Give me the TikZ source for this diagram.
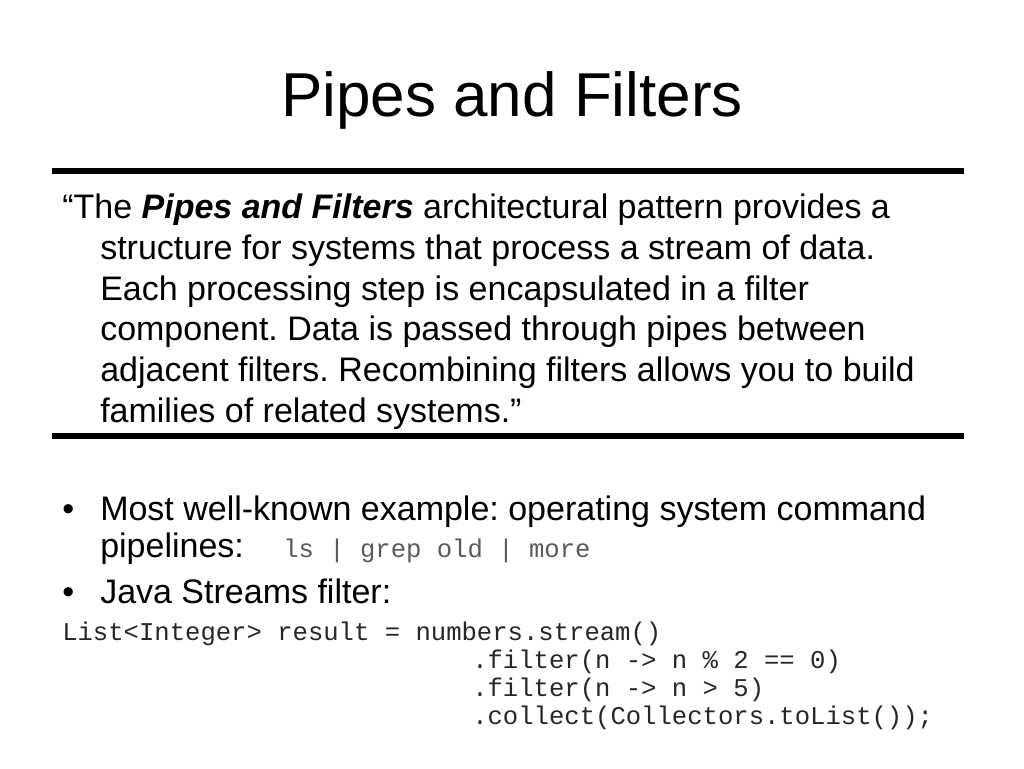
\documentclass[tikz,border=0pt]{standalone}
\usepackage{fontspec}
\setmainfont{Liberation Sans}
\setmonofont{Liberation Mono}
\frenchspacing
\begin{document}
\begin{tikzpicture}[x=0.75pt,y=-0.75pt,
  body/.style={anchor=base west,inner sep=0pt,font=\fontsize{25.5pt}{28pt}\selectfont},
  code/.style={anchor=base west,inner sep=0pt,font=\fontsize{19.2pt}{22pt}\selectfont\ttfamily,text=black!85},
  rule/.style={line width=3.8pt}]
\useasboundingbox (0,0) rectangle (1024,768);
\node[inner sep=0pt,font=\fontsize{46.5pt}{50pt}\selectfont] (title) at (512,100) {Pipes and Filters};
\coordinate (r1a) at (52,171); \coordinate (r1b) at (964,171);
\coordinate (r2a) at (52,436); \coordinate (r2b) at (964,436);
\draw[rule] (r1a) -- (r1b);
\draw[rule] (r2a) -- (r2b);
\node[body] (q1) at (62,218) {“The \textbf{\textit{Pipes and Filters}} architectural pattern provides a};
\node[body] (q2) at (100,259) {structure for systems that process a stream of data.};
\node[body] (q3) at (100,300) {Each processing step is encapsulated in a filter};
\node[body] (q4) at (100,340) {component. Data is passed through pipes between};
\node[body] (q5) at (100,381) {adjacent filters. Recombining filters allows you to build};
\node[body] (q6) at (100,422) {families of related systems.”};
\node[body] (b1) at (62,520) {•};
\node[body] (b1t) at (100,520) {Most well-known example: operating system command};
\node[body] (b1u) at (100,557) {pipelines:};
\node[code,text=black!65] (ls) at (283,557) {ls | grep old | more};
\node[body] (b2) at (62,603) {•};
\node[body] (b2t) at (100,603) {Java Streams filter:};
\node[code] (c1) at (62,640) {List<Integer> result = numbers.stream()};
\node[code] (c2) at (472,668) {.filter(n -> n \% 2 == 0)};
\node[code] (c3) at (472,696) {.filter(n -> n > 5)};
\node[code] (c4) at (472,724) {.collect(Collectors.toList());};
\end{tikzpicture}
\end{document}
